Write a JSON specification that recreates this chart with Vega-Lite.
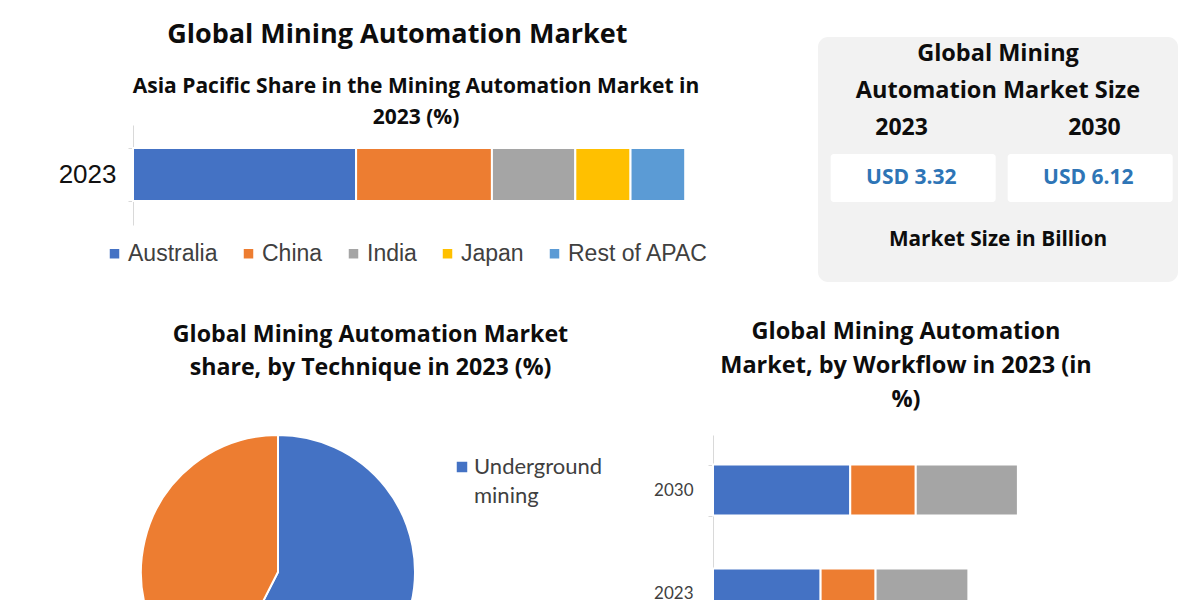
{
  "$schema": "https://vega.github.io/schema/vega-lite/v6.json",
  "background": "white",
  "padding": {"left": 58, "top": 21, "right": 0, "bottom": 0},
  "config": {
    "font": "Lato",
    "view": {"stroke": null},
    "title": {"font": "Open Sans", "fontWeight": "bold", "color": "#0d0d0d", "subtitleFont": "Open Sans"},
    "style": {"guide-label": {"lineHeight": 29}}
  },
  "title": {
    "text": "Global Mining Automation Market",
    "fontSize": 27,
    "anchor": "start",
    "frame": "bounds",
    "dx": 109,
    "offset": -25
  },
  "spacing": 37,
  "vconcat": [
    {
      "spacing": 109,
      "resolve": {"scale": {"color": "independent", "x": "independent", "y": "independent"}},
      "hconcat": [
        {
          "width": 566,
          "height": 188,
          "title": {
            "text": ["Asia Pacific Share in the Mining Automation Market in", "2023 (%)"],
            "fontSize": 21,
            "lineHeight": 31.5,
            "anchor": "middle",
            "frame": "group",
            "offset": -104
          },
          "data": {
            "values": [
              {"year": "2023", "region": "Australia", "share": 40.4},
              {"year": "2023", "region": "China", "share": 24.6},
              {"year": "2023", "region": "India", "share": 15.1},
              {"year": "2023", "region": "Japan", "share": 10.0},
              {"year": "2023", "region": "Rest of APAC", "share": 9.9}
            ]
          },
          "mark": {"type": "bar", "stroke": "white", "strokeWidth": 2},
          "encoding": {
            "y": {
              "field": "year",
              "type": "nominal",
              "scale": {"paddingInner": 0.47, "paddingOuter": 0.675, "align": 0.822},
              "axis": {
                "title": null,
                "domainColor": "#d9d9d9",
                "domainDash": [0, 88, 100, 1000],
                "tickColor": "#d9d9d9",
                "tickBand": "extent",
                "tickSize": 5,
                "labelFont": "Liberation Sans",
                "labelFontSize": 26,
                "labelColor": "#111111",
                "labelPadding": 12
              }
            },
            "x": {
              "field": "share",
              "type": "quantitative",
              "stack": "zero",
              "axis": null,
              "scale": {"domain": [0, 102.5]}
            },
            "color": {
              "field": "region",
              "type": "nominal",
              "sort": ["Australia", "China", "India", "Japan", "Rest of APAC"],
              "scale": {
                "domain": ["Australia", "China", "India", "Japan", "Rest of APAC"],
                "range": ["#4472C4", "#ED7D31", "#A5A5A5", "#FFC000", "#5B9BD5"]
              },
              "legend": {
                "orient": "none",
                "direction": "horizontal",
                "legendX": -30,
                "legendY": 205,
                "title": null,
                "symbolType": "square",
                "symbolSize": 90,
                "symbolStrokeWidth": 0,
                "labelFont": "Liberation Sans",
                "labelFontSize": 23,
                "labelColor": "#404040",
                "labelOffset": 2,
                "columnPadding": 19,
                "padding": 0
              }
            }
          }
        },
        {
          "width": 360,
          "height": 245,
          "view": {"fill": "#f2f2f2", "cornerRadius": 10, "stroke": null},
          "resolve": {"scale": {"x": "independent"}},
          "data": {
            "values": [
              {"line": "head1", "col": "all", "label": "Global Mining"},
              {"line": "head2", "col": "all", "label": "Automation Market Size"},
              {"line": "year", "col": "2023", "label": "2023"},
              {"line": "year", "col": "2030", "label": "2030"},
              {"line": "value", "col": "2023", "label": "USD 3.32"},
              {"line": "value", "col": "2030", "label": "USD 6.12"},
              {"line": "footer", "col": "all", "label": "Market Size in Billion"}
            ]
          },
          "encoding": {
            "y": {
              "field": "line",
              "type": "ordinal",
              "axis": null,
              "scale": {
                "type": "point",
                "domain": ["head1", "gap1", "gap2", "head2", "gap3", "gap4", "year", "gap5", "gap6", "gap7", "value", "gap8", "gap9", "gap10", "gap11", "footer", "gap12", "gap13", "gap14"],
                "padding": 0.88,
                "align": 0.78
              }
            }
          },
          "layer": [
            {
              "transform": [{"filter": "datum.line === 'value'"}],
              "mark": {"type": "rect", "color": "white", "width": 165, "height": 48, "cornerRadius": 3},
              "encoding": {
                "x": {"field": "col", "type": "ordinal", "axis": null, "scale": {"type": "point", "domain": ["2023", "2030"], "padding": 0.517, "align": 0.52}}
              }
            },
            {
              "transform": [{"filter": "datum.line === 'value'"}],
              "mark": {"type": "text", "font": "Open Sans", "fontWeight": "bold", "fontSize": 21, "color": "#2E75B6"},
              "encoding": {
                "x": {"field": "col", "type": "ordinal", "axis": null, "scale": {"type": "point", "domain": ["2023", "2030"], "padding": 0.517, "align": 0.51}},
                "text": {"field": "label"}
              }
            },
            {
              "transform": [{"filter": "datum.line === 'year'"}],
              "mark": {"type": "text", "font": "Open Sans", "fontWeight": "bold", "fontSize": 23, "color": "#0d0d0d"},
              "encoding": {
                "x": {"field": "col", "type": "ordinal", "axis": null, "scale": {"type": "point", "domain": ["2023", "2030"], "padding": 0.433}},
                "text": {"field": "label"}
              }
            },
            {
              "transform": [{"filter": "datum.col === 'all'"}],
              "mark": {"type": "text", "font": "Open Sans", "fontWeight": "bold", "color": "#0d0d0d"},
              "encoding": {
                "text": {"field": "label"},
                "size": {"condition": {"test": "datum.line === 'footer'", "value": 20.8}, "value": 23.5}
              }
            }
          ]
        }
      ]
    },
    {
      "spacing": 29,
      "resolve": {"scale": {"color": "independent", "x": "independent", "y": "independent"}},
      "hconcat": [
        {
          "width": 290,
          "height": 274,
          "title": {
            "text": ["Global Mining Automation Market", "share, by Technique in 2023  (%)"],
            "fontSize": 23.2,
            "lineHeight": 33,
            "frame": "bounds",
            "anchor": "middle",
            "dx": -8,
            "offset": 51
          },
          "data": {
            "values": [
              {"technique": "Underground mining", "share": 57.5},
              {"technique": "Surface mining", "share": 42.5}
            ]
          },
          "mark": {"type": "arc", "stroke": "white", "strokeWidth": 2},
          "encoding": {
            "theta": {"field": "share", "type": "quantitative", "stack": true},
            "order": {"field": "share", "type": "quantitative", "sort": "descending"},
            "color": {
              "field": "technique",
              "type": "nominal",
              "sort": ["Underground mining", "Surface mining"],
              "scale": {"domain": ["Underground mining", "Surface mining"], "range": ["#4472C4", "#ED7D31"]},
              "legend": {
                "orient": "right",
                "title": null,
                "offset": 7,
                "padding": 21,
                "symbolType": "square",
                "symbolSize": 110,
                "symbolStrokeWidth": 0,
                "labelFont": "Lato",
                "labelFontSize": 22,
                "labelColor": "#404040",
                "labelOffset": 1,
                "labelExpr": "split(datum.label, ' ')",
                "labelLimit": 300,
                "rowPadding": 200
              }
            }
          }
        },
        {
          "width": 386,
          "height": 214,
          "title": {
            "text": ["Global Mining Automation", "Market, by Workflow in 2023 (in", "%)"],
            "fontSize": 23.5,
            "lineHeight": 34,
            "anchor": "middle",
            "frame": "group",
            "offset": 15
          },
          "data": {
            "values": [
              {"year": "2030", "workflow": "Mine Development", "share": 35.2},
              {"year": "2030", "workflow": "Mine Maintenance", "share": 16.8},
              {"year": "2030", "workflow": "Mining Process", "share": 26.2},
              {"year": "2023", "workflow": "Mine Development", "share": 27.6},
              {"year": "2023", "workflow": "Mine Maintenance", "share": 14.1},
              {"year": "2023", "workflow": "Mining Process", "share": 23.8}
            ]
          },
          "mark": {"type": "bar", "stroke": "white", "strokeWidth": 2},
          "encoding": {
            "y": {
              "field": "year",
              "type": "nominal",
              "sort": ["2030", "2023"],
              "scale": {"paddingInner": 0.51, "paddingOuter": 0.285},
              "axis": {
                "title": null,
                "domainColor": "#d9d9d9",
                "tickColor": "#d9d9d9",
                "tickBand": "extent",
                "tickSize": 5,
                "labelFont": "Lato",
                "labelFontSize": 17,
                "labelColor": "#404040",
                "labelPadding": 15
              }
            },
            "x": {
              "field": "share",
              "type": "quantitative",
              "stack": "zero",
              "axis": null,
              "scale": {"domain": [0, 99]}
            },
            "color": {
              "field": "workflow",
              "type": "nominal",
              "scale": {
                "domain": ["Mine Development", "Mine Maintenance", "Mining Process"],
                "range": ["#4472C4", "#ED7D31", "#A5A5A5"]
              },
              "legend": null
            }
          }
        }
      ]
    }
  ],
  "resolve": {"scale": {"color": "independent"}}
}
